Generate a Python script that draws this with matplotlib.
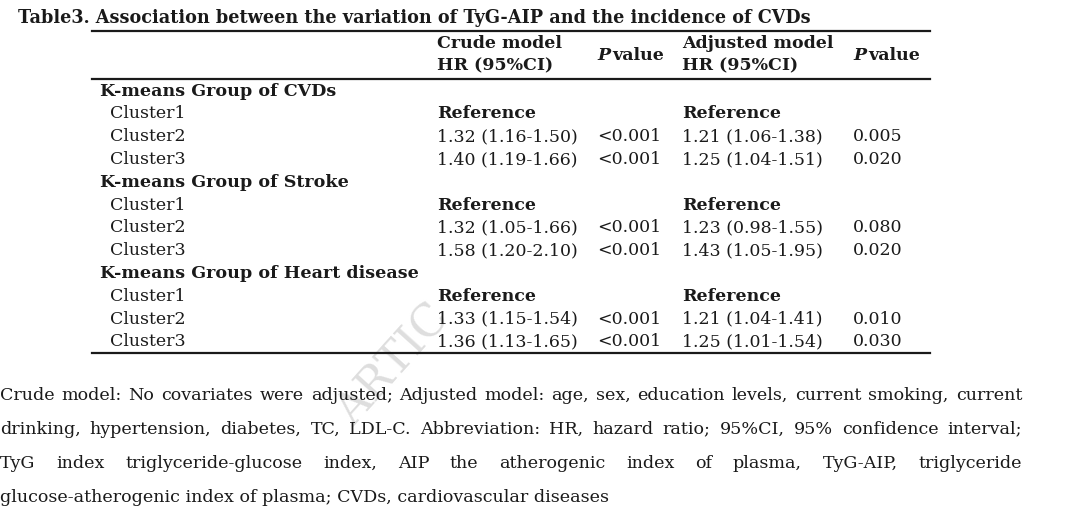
import matplotlib
matplotlib.use("Agg")
import matplotlib.pyplot as plt

title = "Table3. Association between the variation of TyG-AIP and the incidence of CVDs"

groups = ["K-means Group of CVDs", "K-means Group of Stroke", "K-means Group of Heart disease"]
clusters = ["Cluster1", "Cluster2", "Cluster3"]
crude_hr = [
    ["Reference", "1.32 (1.16-1.50)", "1.40 (1.19-1.66)"],
    ["Reference", "1.32 (1.05-1.66)", "1.58 (1.20-2.10)"],
    ["Reference", "1.33 (1.15-1.54)", "1.36 (1.13-1.65)"],
]
crude_p = [
    ["", "<0.001", "<0.001"],
    ["", "<0.001", "<0.001"],
    ["", "<0.001", "<0.001"],
]
adj_hr = [
    ["Reference", "1.21 (1.06-1.38)", "1.25 (1.04-1.51)"],
    ["Reference", "1.23 (0.98-1.55)", "1.43 (1.05-1.95)"],
    ["Reference", "1.21 (1.04-1.41)", "1.25 (1.01-1.54)"],
]
adj_p = [
    ["", "0.005", "0.020"],
    ["", "0.080", "0.020"],
    ["", "0.010", "0.030"],
]

footnote = [
    "Crude model: No covariates were adjusted; Adjusted model: age, sex, education levels, current smoking, current",
    "drinking, hypertension, diabetes, TC, LDL-C. Abbreviation: HR, hazard ratio; 95%CI, 95% confidence interval;",
    "TyG index triglyceride-glucose index, AIP the atherogenic index of plasma, TyG-AIP, triglyceride",
    "glucose-atherogenic index of plasma; CVDs, cardiovascular diseases",
]

plt.rcParams["font.family"] = "DejaVu Serif"
ink = "#1a1a1a"
fs = 12.5

fig = plt.figure(figsize=(10.8, 5.11), dpi=100)
ax = fig.add_axes([0, 0, 1, 1])
ax.set_xlim(0, 1080)
ax.set_ylim(511, 0)
ax.axis("off")
r = fig.canvas.get_renderer()

# watermark
ax.text(393, 365, "ARTIC", rotation=48, fontsize=32, color="#dedede",
        ha="center", va="center", zorder=0)

ax.text(18, 18, title, fontsize=12.7, fontweight="bold", color=ink, va="center")

for y in [31, 79, 353]:
    ax.plot([92, 930], [y, y], color=ink, lw=1.6)

x_lab, x_cl, x_hr, x_p, x_ahr, x_ap = 100, 110, 437, 597, 682, 853

# header
ax.text(x_hr, 44, "Crude model", fontsize=fs, fontweight="bold", color=ink, va="center")
ax.text(x_hr, 66, "HR (95%CI)", fontsize=fs, fontweight="bold", color=ink, va="center")
ax.text(x_ahr, 44, "Adjusted model", fontsize=fs, fontweight="bold", color=ink, va="center")
ax.text(x_ahr, 66, "HR (95%CI)", fontsize=fs, fontweight="bold", color=ink, va="center")
for xp in [x_p, x_ap]:
    ax.text(xp, 55, "P", fontsize=fs, fontweight="bold", fontstyle="italic", color=ink, va="center")
    ax.text(xp + 15, 55, "value", fontsize=fs, fontweight="bold", color=ink, va="center")

y = 91
step = 22.8
for g, grp in enumerate(groups):
    ax.text(x_lab, y, grp, fontsize=12.6, fontweight="bold", color=ink, va="center")
    y += step
    for c, cl in enumerate(clusters):
        bold = "bold" if crude_hr[g][c] == "Reference" else "normal"
        ax.text(x_cl, y, cl, fontsize=fs, color=ink, va="center")
        ax.text(x_hr, y, crude_hr[g][c], fontsize=fs, fontweight=bold, color=ink, va="center")
        ax.text(x_p, y, crude_p[g][c], fontsize=fs, color=ink, va="center")
        ax.text(x_ahr, y, adj_hr[g][c], fontsize=fs, fontweight=bold, color=ink, va="center")
        ax.text(x_ap, y, adj_p[g][c], fontsize=fs, color=ink, va="center")
        y += step

# footnote, justified
fs_note = 12.6
left, right = 0, 1022
for i, line in enumerate(footnote):
    yl = 395 + i * 34
    if i == len(footnote) - 1:
        ax.text(left, yl, line, fontsize=fs_note, color=ink, va="center")
        continue
    words = line.split(" ")
    widths = []
    for w in words:
        t = ax.text(0, 0, w, fontsize=fs_note)
        widths.append(t.get_window_extent(renderer=r).width)
        t.remove()
    gap = (right - left - sum(widths)) / (len(words) - 1)
    x = left
    for w, wd in zip(words, widths):
        ax.text(x, yl, w, fontsize=fs_note, color=ink, va="center")
        x += wd + gap

fig.savefig("out.png", dpi=100, facecolor="white")
